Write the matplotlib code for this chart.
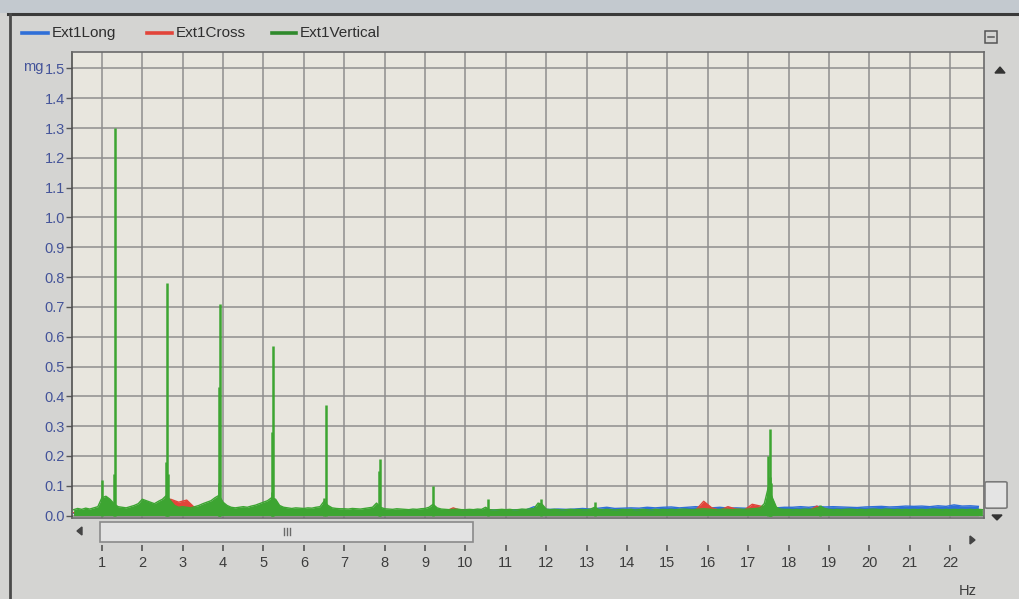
import matplotlib
matplotlib.use("Agg")
import matplotlib.pyplot as plt
import numpy as np
from matplotlib.patches import Rectangle, FancyBboxPatch, Polygon
from matplotlib.lines import Line2D

plt.rcParams['font.family'] = ['Liberation Sans', 'DejaVu Sans']

# ---------------------------------------------------------------- data
series_names = ["Ext1Long", "Ext1Cross", "Ext1Vertical"]
series_colors = ["#2f6fd8", "#e2443a", "#3da532"]
legend_colors = ["#2f6fd8", "#e2443a", "#2f8a2c"]

y_ticks = [0.0, 0.1, 0.2, 0.3, 0.4, 0.5, 0.6, 0.7, 0.8, 0.9, 1.0, 1.1, 1.2, 1.3, 1.4, 1.5]
x_ticks = list(range(1, 23))
y_unit = "mg"
x_unit = "Hz"

# Vertical channel noise floor, 0.1 Hz bins starting at 0.3 Hz (mg)
vert_start, vert_step = 0.3, 0.1
vert_floor = [
    0.020, 0.024, 0.021, 0.025, 0.022, 0.026, 0.030,
    0.060, 0.065, 0.055, 0.040, 0.030, 0.028, 0.026, 0.030, 0.034, 0.040,
    0.055, 0.050, 0.045, 0.040, 0.048, 0.055, 0.068, 0.050, 0.034, 0.028,
    0.030, 0.028, 0.026, 0.030, 0.034, 0.040, 0.045, 0.050, 0.060, 0.068,
    0.045, 0.034, 0.028, 0.026, 0.028, 0.030, 0.028, 0.032, 0.035, 0.040,
    0.045, 0.050, 0.060, 0.055, 0.034, 0.028, 0.026, 0.024, 0.026, 0.025,
    0.024, 0.026, 0.025, 0.028, 0.030, 0.048, 0.034, 0.026, 0.024, 0.023,
    0.023, 0.022, 0.024, 0.023, 0.022, 0.024, 0.026, 0.028, 0.042, 0.028,
    0.023, 0.022, 0.021, 0.023, 0.022, 0.021, 0.020, 0.022, 0.021, 0.023,
    0.024, 0.028, 0.038, 0.026, 0.022, 0.021, 0.020, 0.021, 0.022, 0.020,
    0.020, 0.021, 0.020, 0.022, 0.021, 0.028, 0.020, 0.019, 0.020, 0.021,
    0.020, 0.021, 0.019, 0.020, 0.022, 0.021, 0.023, 0.024, 0.042, 0.038,
    0.022, 0.020, 0.021, 0.020, 0.019, 0.020, 0.021, 0.020, 0.021, 0.020,
    0.020, 0.022, 0.028, 0.021, 0.020, 0.021, 0.020, 0.019, 0.020, 0.021,
    0.020, 0.021, 0.019, 0.020, 0.021, 0.020, 0.019, 0.021, 0.020, 0.021,
    0.020, 0.021, 0.020, 0.021, 0.022, 0.021, 0.020, 0.021, 0.022, 0.023,
    0.022, 0.021, 0.020, 0.021, 0.022, 0.021, 0.020, 0.021, 0.022, 0.021,
    0.022, 0.023, 0.024, 0.026, 0.040, 0.095, 0.060, 0.028, 0.022, 0.021,
    0.021, 0.020, 0.021, 0.020, 0.022, 0.021, 0.022, 0.025, 0.030, 0.024,
    0.021, 0.020, 0.021, 0.020, 0.021, 0.022, 0.021, 0.020, 0.021, 0.020,
    0.021, 0.022, 0.021, 0.020, 0.022, 0.021, 0.020, 0.021, 0.020, 0.021,
    0.020, 0.021, 0.020, 0.021, 0.020, 0.021, 0.022, 0.021, 0.020, 0.021,
    0.020, 0.021, 0.020, 0.021, 0.020, 0.021, 0.020, 0.021, 0.020,
]

# Sharp vertical-channel lines (Hz, mg)
vert_peak_freq = [1.00, 1.30, 1.32, 2.59, 2.61, 2.63, 3.89, 3.91, 3.92,
                  5.20, 5.22, 5.23, 6.51, 6.54, 7.86, 7.88, 9.20, 10.55,
                  11.88, 13.22, 17.50, 17.53, 17.55, 17.57, 18.78]
vert_peak_amp = [0.12, 0.14, 1.30, 0.18, 0.78, 0.14, 0.11, 0.43, 0.71,
                 0.08, 0.28, 0.57, 0.06, 0.37, 0.15, 0.19, 0.10, 0.055,
                 0.055, 0.045, 0.20, 0.29, 0.13, 0.11, 0.035]

# Cross and Long channels, 0.2 Hz bins starting at 0.3 Hz (mg)
side_start, side_step = 0.3, 0.2
cross_floor = [
    0.010, 0.011, 0.012, 0.014,
    0.016, 0.014, 0.012, 0.011, 0.012,
    0.014, 0.016, 0.036, 0.055, 0.045,
    0.052, 0.026, 0.016, 0.020, 0.060,
    0.020, 0.014, 0.012, 0.013, 0.014,
    0.016, 0.032, 0.014, 0.012, 0.011,
    0.011, 0.012, 0.016, 0.013, 0.012,
    0.011, 0.012, 0.011, 0.012, 0.016,
    0.012, 0.011, 0.012, 0.011, 0.012,
    0.013, 0.012, 0.014, 0.026, 0.016,
    0.013, 0.012, 0.011, 0.012, 0.011,
    0.011, 0.012, 0.011, 0.012, 0.014,
    0.012, 0.011, 0.012, 0.011, 0.012,
    0.012, 0.013, 0.012, 0.011, 0.012,
    0.012, 0.011, 0.012, 0.013, 0.012,
    0.012, 0.013, 0.014, 0.018, 0.048,
    0.026, 0.018, 0.030, 0.022, 0.018,
    0.038, 0.032, 0.026, 0.016, 0.014,
    0.013, 0.014, 0.016, 0.032, 0.016,
    0.013, 0.012, 0.013, 0.012, 0.013,
    0.012, 0.013, 0.012, 0.013, 0.012,
    0.012, 0.013, 0.012, 0.013, 0.012,
    0.012, 0.013, 0.012, 0.013,
]
long_floor = [
    0.008, 0.009, 0.009, 0.018,
    0.012, 0.009, 0.008, 0.009, 0.010,
    0.014, 0.012, 0.010, 0.009, 0.009,
    0.009, 0.010, 0.009, 0.010, 0.012,
    0.012, 0.010, 0.012, 0.013, 0.012,
    0.013, 0.014, 0.013, 0.014, 0.013,
    0.014, 0.013, 0.014, 0.016, 0.014,
    0.016, 0.014, 0.016, 0.017, 0.016,
    0.017, 0.016, 0.017, 0.018, 0.017,
    0.017, 0.018, 0.017, 0.018, 0.019,
    0.018, 0.019, 0.018, 0.019, 0.018,
    0.019, 0.020, 0.019, 0.030, 0.020,
    0.021, 0.022, 0.021, 0.022, 0.024,
    0.022, 0.025, 0.028, 0.024, 0.025,
    0.026, 0.025, 0.028, 0.026, 0.028,
    0.029, 0.026, 0.028, 0.030, 0.028,
    0.026, 0.028, 0.025, 0.026, 0.025,
    0.024, 0.025, 0.022, 0.026, 0.028,
    0.028, 0.030, 0.028, 0.031, 0.029,
    0.030, 0.029, 0.028, 0.027, 0.029,
    0.030, 0.031, 0.029, 0.030, 0.032,
    0.031, 0.032, 0.030, 0.033, 0.031,
    0.036, 0.032, 0.033, 0.031,
]

vert_freq = vert_start + vert_step * np.arange(len(vert_floor))
side_freq = side_start + side_step * np.arange(len(cross_floor))

# ---------------------------------------------------------------- figure
W, H = 1019, 599
fig = plt.figure(figsize=(W / 100, H / 100), dpi=100)
fig.patch.set_facecolor('#d4d4d2')


def fx(px):
    return px / W


def fy(py):
    return 1 - py / H


# window chrome
fig.add_artist(Rectangle((0, fy(13)), 1, 13 / H, transform=fig.transFigure,
                         facecolor='#c3c9cf', edgecolor='none', zorder=0))
fig.add_artist(Line2D([fx(8), 1], [fy(14), fy(14)], transform=fig.transFigure,
                      color='#3a3a3a', lw=2.2))
fig.add_artist(Line2D([fx(10), fx(10)], [fy(14), 0], transform=fig.transFigure,
                      color='#4a4a4a', lw=2.0))

# plot area
left, right, top, bottom = 72, 984, 52, 518
ax = fig.add_axes([fx(left), fy(bottom), (right - left) / W, (bottom - top) / H])
ax.set_facecolor('#e8e6de')
ax.set_xlim(0.26, 22.84)
ax.set_ylim(-0.008, 1.555)

ax.set_xticks(x_ticks)
ax.set_yticks(y_ticks)
ax.set_yticklabels([f"{v:.1f}" for v in y_ticks])
ax.grid(True, color='#8e8e8e', lw=1.1)
ax.set_axisbelow(True)
ax.tick_params(axis='x', length=0, labelbottom=False)
ax.tick_params(axis='y', length=4, width=1, color='#555555', pad=1,
               labelsize=10.5, labelcolor='#44549a')
for s in ax.spines.values():
    s.set_color('#6a6a6a')
    s.set_linewidth(1.2)
ax.spines['left'].set_color('#505050')

# spectra: long, cross, then vertical on top
floors = [(side_freq, long_floor), (side_freq, cross_floor), (vert_freq, vert_floor)]
for (fq, vals), col in zip(floors, series_colors):
    ax.fill_between(fq, 0, vals, color=col, lw=0, zorder=3)
    ax.plot(fq, vals, color=col, lw=1.0, zorder=3)
ax.vlines(vert_peak_freq, 0, vert_peak_amp, color=series_colors[2], lw=1.8, zorder=4)

fig.text(fx(23), fy(67), y_unit, fontsize=10.5, color='#44549a', va='center', ha='left')

# legend row
legend_x = [(22, 48, 52), (147, 172, 176), (272, 296, 300)]
for (x0, x1, xt), name, col in zip(legend_x, series_names, legend_colors):
    fig.add_artist(Line2D([fx(x0), fx(x1)], [fy(33), fy(33)], transform=fig.transFigure,
                          color=col, lw=2.6))
    fig.text(fx(xt), fy(33), name, fontsize=11, color='#2e2e2e', va='center', ha='left')

# frequency scale below the scroll bar
sx = fig.add_axes([fx(left), fy(545), (right - left) / W, 0.0001])
sx.set_xlim(ax.get_xlim())
sx.set_xticks(x_ticks)
sx.set_yticks([])
for s in sx.spines.values():
    s.set_visible(False)
sx.patch.set_alpha(0)
sx.tick_params(axis='x', direction='out', length=4, width=1.2, color='#555555',
               pad=4, labelsize=10.5, labelcolor='#3c3c3c')
fig.text(fx(968), fy(591), x_unit, fontsize=10.5, color='#3c3c3c', ha='center', va='center')

# horizontal scroll bar
fig.add_artist(Rectangle((fx(100), fy(542)), fx(373), 20 / H, transform=fig.transFigure,
                         facecolor='#e2e2e2', edgecolor='#8a8a8a', lw=1.2, zorder=2))
for gx in (284, 287, 290):
    fig.add_artist(Line2D([fx(gx), fx(gx)], [fy(528), fy(535)], transform=fig.transFigure,
                          color='#6a6a6a', lw=1.0))
fig.add_artist(Polygon([[fx(77), fy(531)], [fx(82), fy(527)], [fx(82), fy(535)]],
                       closed=True, transform=fig.transFigure, color='#444444'))
fig.add_artist(Polygon([[fx(975), fy(540)], [fx(970), fy(536)], [fx(970), fy(544)]],
                       closed=True, transform=fig.transFigure, color='#444444'))

# vertical scroll controls
fig.add_artist(Polygon([[fx(1000), fy(67)], [fx(995), fy(73)], [fx(1005), fy(73)]],
                       closed=True, transform=fig.transFigure, color='#333333'))
fig.add_artist(Polygon([[fx(997), fy(520)], [fx(992), fy(515)], [fx(1002), fy(515)]],
                       closed=True, transform=fig.transFigure, color='#333333'))
fig.add_artist(FancyBboxPatch((fx(987), fy(507)), 18 / W, 24 / H,
                              boxstyle='round,pad=0.002', transform=fig.transFigure,
                              facecolor='#e4e4e4', edgecolor='#7a7a7a', lw=1.2))
fig.add_artist(Rectangle((fx(985), fy(43)), 12 / W, 12 / H, transform=fig.transFigure,
                         facecolor='none', edgecolor='#555555', lw=1.1))
fig.add_artist(Line2D([fx(988), fx(994)], [fy(37), fy(37)], transform=fig.transFigure,
                      color='#555555', lw=1.1))

fig.savefig("out.png", dpi=100, facecolor=fig.get_facecolor())
